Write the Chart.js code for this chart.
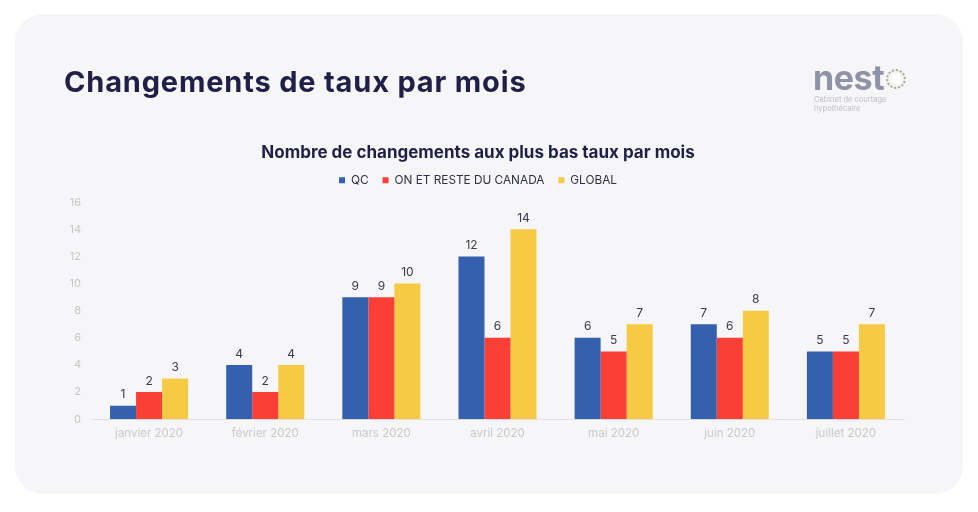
<!DOCTYPE html>
<html lang="fr">
<head>
<meta charset="utf-8">
<title>Changements de taux par mois</title>
<script src="https://cdn.jsdelivr.net/npm/chart.js@4"></script>
<style>
html, body { margin: 0; padding: 0; width: 978px; height: 512px; background: #fff; overflow: hidden; }
#card { position: absolute; left: 15px; top: 14px; width: 948px; height: 480px; background: #f6f6f8; border-radius: 28px; }
#canvasWrap { position: absolute; left: 0; top: 0; width: 978px; height: 512px; }
h1 { position: absolute; left: 64px; top: 65px; margin: 0; font: 700 29px/34px Inter, sans-serif; color: #1f1f47; letter-spacing: 0.82px; white-space: nowrap; }
#logo { position: absolute; left: 813px; top: 62px; width: 110px; height: 52px; }
#logoWord { position: absolute; left: 0; top: -1px; font: 700 34px/34px Inter, sans-serif; color: #8f93a8; letter-spacing: -0.4px; }
#logoDot { position: absolute; left: 73px; top: 7px; width: 20px; height: 20px; border-radius: 50%; box-sizing: border-box; border: 2px dotted #aaa892; background: radial-gradient(circle, #ffffff 30%, #e8e7e2 90%); }
#logoSub { position: absolute; left: 1px; top: 34px; font: 400 7.5px/8.5px Inter, sans-serif; color: #bcbec8; }
</style>
</head>
<body>
<div id="card"></div>
<div id="canvasWrap"><canvas id="myChart" width="978" height="512"></canvas></div>
<h1>Changements de taux par mois</h1>
<div id="logo">
  <div id="logoWord">nest</div>
  <div id="logoDot"></div>
  <div id="logoSub">Cabinet de courtage<br>hypothécaire</div>
</div>
<script>
var mois = ["janvier 2020", "février 2020", "mars 2020", "avril 2020", "mai 2020", "juin 2020", "juillet 2020"];
var qc = [1, 4, 9, 12, 6, 7, 5];
var onCanada = [2, 2, 9, 6, 5, 6, 5];
var global = [3, 4, 10, 14, 7, 8, 7];
var nomsSeries = ["QC", "ON ET RESTE DU CANADA", "GLOBAL"];
var couleurs = ["#3560ad", "#fb3e36", "#f7ca45"];
var titre = "Nombre de changements aux plus bas taux par mois";

// etiquettes au dessus des barres
const etiquettes = {
    id: "etiquettes",
    afterDatasetsDraw(chart) {
        const ctx = chart.ctx;
        ctx.save();
        ctx.font = "12px Inter, sans-serif";
        ctx.fillStyle = "#3a3a4a";
        ctx.textAlign = "center";
        ctx.textBaseline = "bottom";
        chart.data.datasets.forEach(function (ds, i) {
            chart.getDatasetMeta(i).data.forEach(function (bar, j) {
                ctx.fillText(ds.data[j], bar.x, bar.y - 5);
            });
        });
        ctx.restore();
    }
};

// remonte un peu la legende sans bouger la zone du graphique
const remonterLegende = {
    id: "remonterLegende",
    afterLayout(chart) {
        chart.legend.top -= 6;
        chart.legend.bottom -= 6;
    }
};

const data = {
    labels: mois,
    datasets: [
        { label: nomsSeries[0], data: qc, backgroundColor: couleurs[0] },
        { label: nomsSeries[1], data: onCanada, backgroundColor: couleurs[1] },
        { label: nomsSeries[2], data: global, backgroundColor: couleurs[2] }
    ]
};

const config = {
    type: "bar",
    data: data,
    plugins: [etiquettes, remonterLegende],
    options: {
        responsive: false,
        animation: false,
        layout: { padding: { left: 52, right: 74, top: 143, bottom: 64 } },
        datasets: { bar: { barPercentage: 1, categoryPercentage: 0.672 } },
        plugins: {
            tooltip: { enabled: false },
            title: {
                display: true,
                text: titre,
                color: "#1f1f47",
                font: { family: "Inter, sans-serif", size: 17, weight: "700" },
                padding: { top: 0, bottom: 3 }
            },
            legend: {
                labels: {
                    usePointStyle: true,
                    pointStyle: "rect",
                    boxWidth: 6,
                    boxHeight: 6,
                    padding: 14,
                    color: "#2f2f45",
                    font: { family: "Inter, sans-serif", size: 11.8 }
                }
            }
        },
        scales: {
            x: {
                grid: { display: false, drawTicks: false },
                border: { color: "#e2e2e6" },
                ticks: { color: "#c9c9c9", padding: 7.5, font: { family: "Inter, sans-serif", size: 11.5 } }
            },
            y: {
                min: 0,
                max: 16,
                grid: { display: false, drawTicks: false },
                border: { display: false },
                ticks: { stepSize: 2, color: "#c6c6c6", padding: 10, font: { family: "Inter, sans-serif", size: 11 } },
                afterFit: function (scale) { scale.width = 39; }
            }
        }
    }
};

const myChart = new Chart(document.getElementById("myChart"), config);
</script>
</body>
</html>
